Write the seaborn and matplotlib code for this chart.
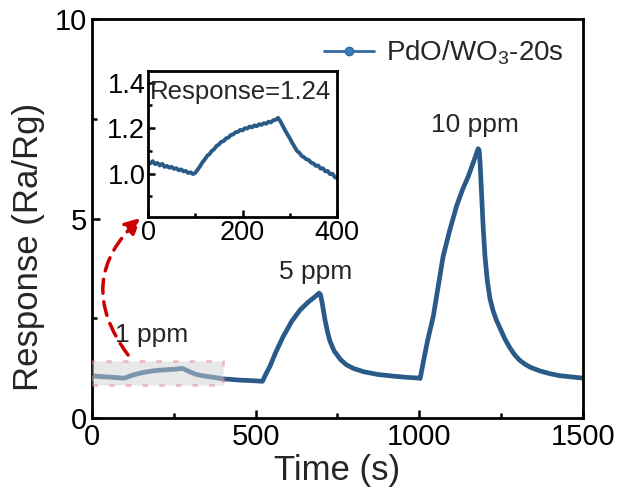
import matplotlib
matplotlib.use("Agg")
import matplotlib.pyplot as plt
from matplotlib.lines import Line2D
from matplotlib.patches import Rectangle
from matplotlib.ticker import MultipleLocator, FormatStrFormatter
import seaborn as sns
import pandas as pd

# ---- data ----
# 1 ppm segment (also shown in the inset)
t_1ppm = [0, 5, 10, 15, 20, 25, 30, 35, 40, 45, 50, 55, 60, 65, 70, 75, 80, 85, 90, 95,
          100, 105, 110, 115, 120, 125, 130, 135, 140, 145, 150, 155, 160, 165, 170, 175,
          180, 185, 190, 195, 200, 205, 210, 215, 220, 225, 230, 235, 240, 245, 250, 255,
          260, 265, 270, 275, 280, 285, 290, 295, 300, 305, 310, 315, 320, 325, 330, 335,
          340, 345, 350, 355, 360, 365, 370, 375, 380, 385, 390, 395, 400]
r_1ppm = [1.052, 1.045, 1.055, 1.042, 1.047, 1.036, 1.043, 1.030, 1.034, 1.026, 1.030, 1.021,
          1.024, 1.015, 1.019, 1.010, 1.012, 1.003, 1.006, 0.998, 1.004, 1.018, 1.032, 1.050,
          1.062, 1.078, 1.086, 1.100, 1.108, 1.122, 1.128, 1.140, 1.143, 1.155, 1.158, 1.170,
          1.172, 1.182, 1.183, 1.192, 1.190, 1.200, 1.198, 1.207, 1.203, 1.212, 1.208, 1.217,
          1.214, 1.222, 1.219, 1.228, 1.225, 1.235, 1.236, 1.245, 1.230, 1.210, 1.190, 1.172,
          1.155, 1.135, 1.118, 1.100, 1.092, 1.078, 1.072, 1.063, 1.060, 1.048, 1.045, 1.034,
          1.036, 1.022, 1.024, 1.010, 1.012, 0.998, 1.000, 0.985, 0.980]

# rest of the transient (5 ppm and 10 ppm)
t_rest = [420, 450, 480, 500, 521, 530, 544, 560, 584, 610, 636, 660, 680, 694, 698, 703,
          707, 712, 720, 727, 740, 760, 778, 800, 830, 874, 920, 960, 1000, 1003,
          1010, 1025, 1043, 1058, 1073, 1093, 1114, 1132, 1150, 1165, 1180, 1183, 1186,
          1190, 1195, 1201, 1208, 1216, 1226, 1236, 1247, 1262, 1277, 1292, 1308, 1325,
          1340, 1369, 1400, 1430, 1465, 1500]
r_rest = [0.97, 0.95, 0.94, 0.93, 0.92, 1.08, 1.30, 1.62, 2.04, 2.42, 2.71, 2.90, 3.03, 3.13,
          3.10, 2.90, 2.70, 2.46, 2.15, 1.93, 1.68, 1.46, 1.33, 1.24, 1.16, 1.09, 1.05, 1.02,
          1.00, 0.99, 1.30, 1.92, 2.55, 3.30, 4.05, 4.70, 5.31, 5.72, 6.06, 6.40, 6.75, 6.72,
          6.40, 5.70, 4.85, 4.05, 3.45, 3.00, 2.68, 2.45, 2.25, 1.98, 1.76, 1.58, 1.44, 1.34,
          1.27, 1.18, 1.11, 1.06, 1.03, 1.00]

series_label = "PdO/WO$_3$-20s"
conc_labels = ["1 ppm", "5 ppm", "10 ppm"]
inset_text = "Response=1.24"

main_df = pd.DataFrame({"Time": t_1ppm + t_rest, "Response": r_1ppm + r_rest})
inset_df = pd.DataFrame({"Time": t_1ppm, "Response": r_1ppm})

# ---- style ----
sns.set_theme(style="ticks")
plt.rcParams["font.family"] = ["Liberation Sans", "DejaVu Sans"]
plt.rcParams["mathtext.fontset"] = "custom"
plt.rcParams["mathtext.rm"] = "Liberation Sans"
plt.rcParams["mathtext.it"] = "Liberation Sans:italic"

line_col = "#2a5b88"

fig = plt.figure(figsize=(6.22, 5.03), dpi=100)
ax = fig.add_axes([0.148, 0.169, 0.789, 0.793])

sns.lineplot(data=main_df, x="Time", y="Response", ax=ax, color=line_col, lw=3.4,
             sort=False, estimator=None, zorder=2)

ax.set_xlim(0, 1500)
ax.set_ylim(0, 10)
ax.xaxis.set_major_locator(MultipleLocator(500))
ax.xaxis.set_minor_locator(MultipleLocator(250))
ax.yaxis.set_major_locator(MultipleLocator(5))
ax.yaxis.set_minor_locator(MultipleLocator(2.5))
ax.tick_params(which="both", direction="in", width=1.8, labelsize=21, colors="black")
ax.tick_params(which="major", length=6)
ax.tick_params(which="minor", length=3.5)
for s in ax.spines.values():
    s.set_linewidth(2.0)
    s.set_color("black")
ax.set_xlabel("Time (s)", fontsize=25, labelpad=2)
ax.set_ylabel("Response (Ra/Rg)", fontsize=25)
ax.yaxis.set_label_coords(-0.095, 0.43)

# grey highlight box over the 1 ppm segment
rect = Rectangle((0, 0.83), 400, 0.61, facecolor="#d2d2d2", alpha=0.5,
                 edgecolor="#d98a8f", lw=2.0, linestyle=(0, (2, 4)), zorder=3)
ax.add_patch(rect)

# concentration labels
ax.text(183, 2.08, conc_labels[0], fontsize=19, ha="center", va="center")
ax.text(684, 3.67, conc_labels[1], fontsize=19, ha="center", va="center")
ax.text(1170, 7.34, conc_labels[2], fontsize=19, ha="center", va="center")

# red dashed curved arrow to the inset
ax.annotate("", xy=(150, 5.02), xytext=(110, 1.58),
            arrowprops=dict(arrowstyle="-|>,head_length=0.8,head_width=0.4", color="#cc0000",
                            lw=2.5, linestyle=(0, (4, 2.5)),
                            connectionstyle="arc3,rad=-0.45", shrinkA=0, shrinkB=0))

# legend
handle = Line2D([], [], color="#2f6aa0", lw=2, marker="o", markersize=6,
                markerfacecolor="#3b7dc0", markeredgecolor="#2f6aa0")
ax.legend([handle], [series_label], loc="upper right", frameon=False, fontsize=20,
          handlelength=1.8, handletextpad=0.4, borderaxespad=0.3)

# ---- inset ----
axin = fig.add_axes([0.238, 0.5686, 0.304, 0.290])
sns.lineplot(data=inset_df, x="Time", y="Response", ax=axin, color=line_col, lw=2.8,
             sort=False, estimator=None)
axin.set_xlim(0, 400)
axin.set_ylim(0.81, 1.45)
axin.xaxis.set_major_locator(MultipleLocator(200))
axin.xaxis.set_minor_locator(MultipleLocator(100))
axin.yaxis.set_major_locator(MultipleLocator(0.2))
axin.yaxis.set_minor_locator(MultipleLocator(0.1))
axin.yaxis.set_major_formatter(FormatStrFormatter("%.1f"))
axin.tick_params(which="both", direction="in", width=1.8, labelsize=19.5, colors="black",
                 pad=2)
axin.tick_params(which="major", length=5)
axin.tick_params(which="minor", length=3)
for s in axin.spines.values():
    s.set_linewidth(2.0)
    s.set_color("black")
axin.set_xlabel("")
axin.set_ylabel("")
axin.text(3, 1.36, inset_text, fontsize=18.5, ha="left", va="center")

fig.savefig("out.png", dpi=100)
